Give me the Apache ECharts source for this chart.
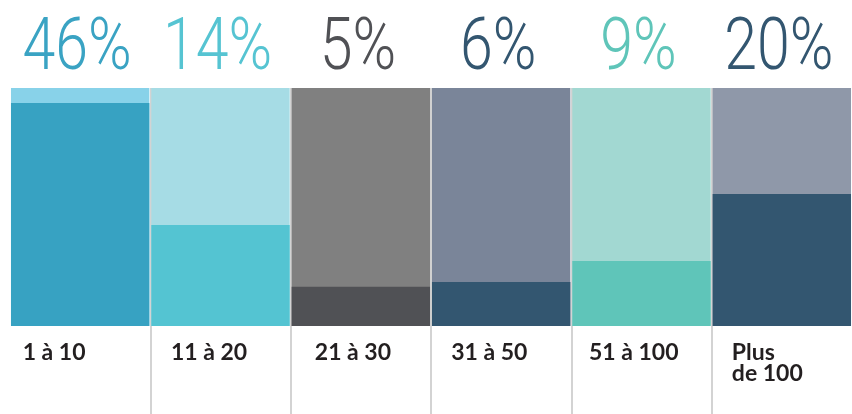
<!DOCTYPE html>
<html>
<head>
<meta charset="utf-8">
<style>
  html, body { margin: 0; padding: 0; background: #ffffff; }
  #chart { width: 852px; height: 414px; }
</style>
<script src="https://cdn.jsdelivr.net/npm/echarts@6/dist/echarts.min.js"></script>
</head>
<body>
<div id="chart"></div>
<script>
// Size classes (columns)
var categories = ['1 à 10', '11 à 20', '21 à 30', '31 à 50', '51 à 100', 'Plus\nde 100'];
// Headline share shown above each column (%)
var shares = [46, 14, 5, 6, 9, 20];
// Filled part of each column (% of the column height)
var fill = [93.7, 42.4, 16.5, 18.5, 27.3, 55.5];
// Full column (background) value
var full = [100, 100, 100, 100, 100, 100];

var bgColors = ['#88d2e9', '#a6dce5', '#808080', '#7a8599', '#a2d8d2', '#8f98a9'];
var fgColors = ['#37a2c2', '#54c4d2', '#505155', '#335670', '#5fc5b9', '#335670'];
var headColors = ['#3aa3c3', '#56c4d2', '#505155', '#335670', '#5fc5b9', '#335670'];
// Width of the box each category label is left-aligned in
var labelBox = [115, 99, 92, 100, 105, 100];

var chart = echarts.init(document.getElementById('chart'), null, { renderer: 'canvas' });

var sepStyle = { color: '#d3d3d3', width: 2 };
var labelFont = { fontFamily: 'Lato', fontWeight: 700, fontSize: 23, lineHeight: 21, color: '#231f20', align: 'left' };
var rich = {};
labelBox.forEach(function (w, i) {
  rich['c' + i] = Object.assign({ width: w }, labelFont);
});

chart.setOption({
  animation: false,
  grid: [
    { left: 10, right: 0, top: 88, bottom: 88 },
    { left: 10, right: 0, top: 326, bottom: 0 }
  ],
  xAxis: [
    {
      gridIndex: 0,
      type: 'category',
      data: categories,
      axisLine: { show: false },
      axisTick: { show: false },
      splitLine: { show: true, showMinLine: false, showMaxLine: false, lineStyle: sepStyle },
      axisLabel: {
        show: true,
        interval: 0,
        margin: 16,
        align: 'center',
        verticalAlign: 'top',
        formatter: function (v, i) {
          return v.split('\n').map(function (l) {
            return '{c' + i + '|' + l + '}';
          }).join('\n');
        },
        rich: rich
      }
    },
    {
      gridIndex: 1,
      type: 'category',
      data: categories,
      axisLine: { show: false },
      axisTick: { show: false },
      axisLabel: { show: false },
      splitLine: { show: true, showMinLine: false, showMaxLine: false, lineStyle: sepStyle }
    }
  ],
  yAxis: [
    { gridIndex: 0, type: 'value', min: 0, max: 100, show: false, splitLine: { show: false } },
    { gridIndex: 1, type: 'value', min: 0, max: 1, show: false, splitLine: { show: false } }
  ],
  series: [
    {
      name: 'Colonne',
      type: 'bar',
      xAxisIndex: 0,
      yAxisIndex: 0,
      barCategoryGap: '1.4%',
      data: full.map(function (v, i) {
        return { value: v, itemStyle: { color: bgColors[i] } };
      })
    },
    {
      name: 'Part',
      type: 'bar',
      xAxisIndex: 0,
      yAxisIndex: 0,
      barGap: '-100%',
      barCategoryGap: '1.4%',
      data: fill.map(function (v, i) {
        return { value: v, itemStyle: { color: fgColors[i] } };
      })
    }
  ]
});

// Headline percentages above each column, in a narrow light face
var heads = shares.map(function (s, i) {
  var p = chart.convertToPixel({ xAxisIndex: 0, yAxisIndex: 0 }, [i, full[i]]);
  return {
    type: 'text',
    x: p[0] - 3,
    y: p[1] - 37,
    scaleX: 0.82,
    style: {
      text: s + '%',
      fill: headColors[i],
      font: '300 72px Roboto, sans-serif',
      textAlign: 'center',
      textVerticalAlign: 'middle'
    }
  };
});
chart.setOption({ graphic: heads });
</script>
</body>
</html>
